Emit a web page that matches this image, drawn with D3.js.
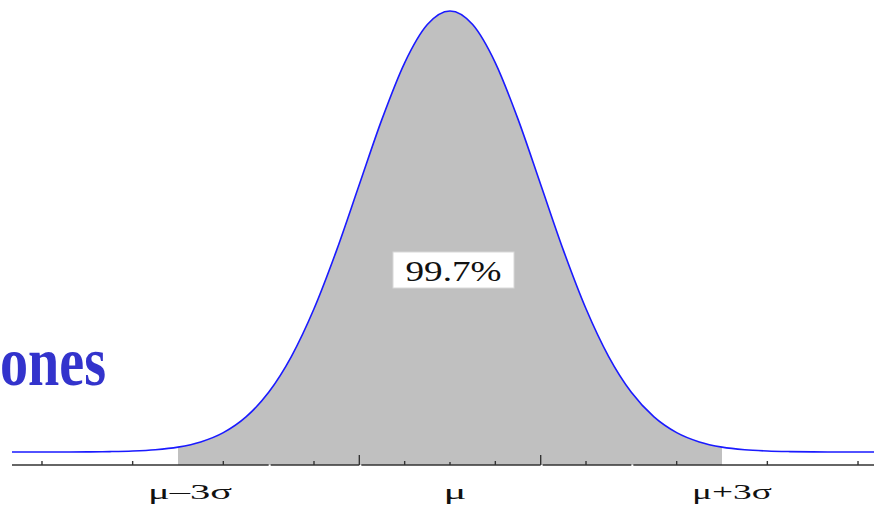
<!DOCTYPE html>
<html>
<head>
<meta charset="utf-8">
<script src="https://cdn.jsdelivr.net/npm/d3@7"></script>
<style>
  html, body { margin: 0; padding: 0; background: #fff; }
  svg { display: block; }
</style>
</head>
<body>
<svg id="chart" width="874" height="508"></svg>
<script>
// ---- data ----
// positions in sigma units from the mean, relative curve height (peak = 1)
const zPositions = [-5,-4.75,-4.5,-4.25,-4,-3.75,-3.5,-3.25,-3,-2.75,-2.5,-2.25,-2,-1.75,-1.5,-1.25,-1,-0.75,-0.5,-0.25,0,
                    0.25,0.5,0.75,1,1.25,1.5,1.75,2,2.25,2.5,2.75,3,3.25,3.5,3.75,4,4.25,4.5,4.75,5];
const curveHeights = [0.0000,0.0000,0.0000,0.0001,0.0003,0.0009,0.0022,0.0051,0.0111,0.0228,0.0439,0.0796,0.1353,0.2163,0.3247,0.4578,0.6065,0.7548,0.8825,0.9692,1.0000,
                      0.9692,0.8825,0.7548,0.6065,0.4578,0.3247,0.2163,0.1353,0.0796,0.0439,0.0228,0.0111,0.0051,0.0022,0.0009,0.0003,0.0001,0.0000,0.0000,0.0000];
const shadedRange = [-3, 3];
const shadedLabel = "99.7%";
const minorTicks = [-4.5,-3.5,-2.5,-1.5,-0.5,0.5,1.5,2.5,3.5,4.5];
const majorTicks = [-1, 1];
const centerTick = [0];
const axisGaps = [-2, -1, 1, 2];
const tickLabelValues = [-3, 0, 3];
const tickLabels = ["μ–3σ", "μ", "μ+3σ"];
const sideText = "ones";

const points = zPositions.map((z, i) => ({ z, h: curveHeights[i] }));

// ---- layout ----
const svg = d3.select("#chart");
const sigmaPx = 90.67, meanPx = 450;
const x = d3.scaleLinear().domain([-5, 5]).range([meanPx - 5 * sigmaPx, meanPx + 5 * sigmaPx]);
const y = d3.scaleLinear().domain([0, 1]).range([452, 11]);
const axisY = 465;
const leftEdge = 12, rightEdge = 874;

svg.append("clipPath").attr("id", "clip")
  .append("rect").attr("x", leftEdge).attr("y", 0).attr("width", rightEdge - leftEdge).attr("height", 508);

// shaded area
const shaded = points.filter(d => d.z >= shadedRange[0] && d.z <= shadedRange[1]);
const area = d3.area().x(d => x(d.z)).y0(axisY).y1(d => y(d.h)).curve(d3.curveMonotoneX);
svg.append("path").datum(shaded).attr("d", area).attr("fill", "#c0c0c0");

// curve
const line = d3.line().x(d => x(d.z)).y(d => y(d.h)).curve(d3.curveMonotoneX);
svg.append("path").datum(points).attr("d", line)
  .attr("clip-path", "url(#clip)")
  .attr("fill", "none").attr("stroke", "#1a1aff").attr("stroke-width", 1.6);

// axis line with small gaps
const axisG = svg.append("g");
const breaks = [leftEdge].concat(axisGaps.map(g => x(g))).concat([rightEdge]);
for (let i = 0; i < breaks.length - 1; i++) {
  const a = i === 0 ? breaks[i] : breaks[i] + 2;
  const b = breaks[i + 1];
  axisG.append("line").attr("x1", a).attr("x2", b).attr("y1", axisY).attr("y2", axisY)
    .attr("stroke", "#333").attr("stroke-width", 1.6);
}
axisG.selectAll(".minor").data(minorTicks).enter().append("line")
  .attr("x1", d => x(d)).attr("x2", d => x(d)).attr("y1", axisY).attr("y2", axisY - 4)
  .attr("stroke", "#333").attr("stroke-width", 1.4);
axisG.selectAll(".major").data(majorTicks).enter().append("line")
  .attr("x1", d => x(d)).attr("x2", d => x(d)).attr("y1", axisY).attr("y2", axisY - 10)
  .attr("stroke", "#333").attr("stroke-width", 1.4);
axisG.selectAll(".center").data(centerTick).enter().append("line")
  .attr("x1", d => x(d)).attr("x2", d => x(d)).attr("y1", axisY).attr("y2", axisY - 3)
  .attr("stroke", "#333").attr("stroke-width", 1.4);

// tick labels
const labelDx = [12, 5, 10];
const labelLen = [84, 23, 80];
axisG.selectAll(".lbl").data(tickLabelValues).enter().append("text")
  .attr("x", (d, i) => x(d) + labelDx[i])
  .attr("y", 499)
  .attr("text-anchor", "middle")
  .attr("font-family", "'Liberation Serif', 'Times New Roman', serif")
  .attr("font-size", 21)
  .attr("fill", "#111")
  .attr("textLength", (d, i) => labelLen[i])
  .attr("lengthAdjust", "spacingAndGlyphs")
  .text((d, i) => tickLabels[i]);

// 99.7% label box
const boxCx = x(0) + 3.5, boxCy = 270;
svg.append("rect").attr("x", boxCx - 60.5).attr("y", boxCy - 18).attr("width", 121).attr("height", 36)
  .attr("fill", "#fff").attr("stroke", "#d8d8d8").attr("stroke-width", 1);
svg.append("text").attr("x", boxCx).attr("y", 281)
  .attr("text-anchor", "middle")
  .attr("font-family", "'Liberation Serif', 'Times New Roman', serif")
  .attr("font-size", 29).attr("fill", "#111")
  .attr("textLength", 96).attr("lengthAdjust", "spacingAndGlyphs")
  .text(shadedLabel);

// blue title text on the left (cut off in the original slide)
svg.append("text").attr("x", 0).attr("y", 385)
  .attr("font-family", "'Liberation Serif', 'Times New Roman', serif")
  .attr("font-weight", "bold").attr("font-size", 70).attr("fill", "#3333cc")
  .attr("textLength", 106).attr("lengthAdjust", "spacingAndGlyphs")
  .text(sideText);
</script>
</body>
</html>
